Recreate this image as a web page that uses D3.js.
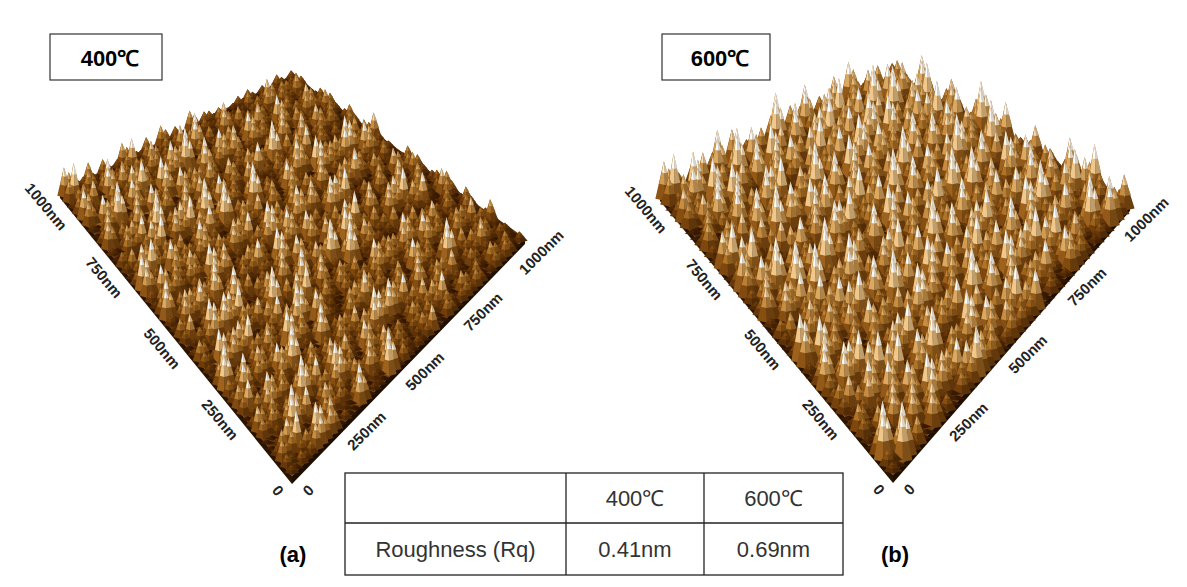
<!DOCTYPE html>
<html><head><meta charset="utf-8">
<script src="https://cdn.jsdelivr.net/npm/d3@7"></script>
<style>body{margin:0;background:#fff}</style></head>
<body><svg id="c" width="1187" height="587"></svg>
<script>
// Surface heights (0-9), one string per row
const heightsA = [
"352463527342563472536243","463725364852736425374625","254637429536274835462736",
"375264538472639427536452","463827356482537264839425","536472839265374628453736",
"247536482739456327584634","364829573648293756427385","572436548273659428364752",
"436758243685374926538467","653842756374829364758243","385627493658247365839254",
"472863527496384752638475","639274856372948563274869","348567293846572938465273",
"576384962738456293847562","463927584635279486357948","857362948573625849364752",
"369485726394857362948573","574839265748396275849367","486273958647382957463829",
"635948572638495726385947","472856394857263948576394","958372649583726495837264"];
const heightsB = [
"463825736948257364839527","257396482759364827593648","648273958463729584637295",
"375948627395846273958462","829463758294637582946375","462739584627395846273958",
"738594627385946273859462","596273849562738495627384","374859627384956273849562",
"859627384956273849562738","627384956273849562738495","483956273849562738495627",
"956273849562738495627384","274839562748395627483956","639527483956274839562748",
"485726394857263948572639","728394857263948572639485","396485726394857263948572",
"857263948572639485726394","463948572639485726394857","739485726394857263948572",
"294857263948572639485726","685726394857263948572639","947263948572639485726394"];
const axisTicks = ["0","250nm","500nm","750nm","1000nm"];
const panelTitles = ["400\u2103","600\u2103"];
const panelTags = ["(a)","(b)"];
const tableHeader = ["","400\u2103","600\u2103"];
const tableRow = ["Roughness (Rq)","0.41nm","0.69nm"];

const svg = d3.select("#c");
const color = d3.scaleLinear().domain([0,3,5,7,8.5]).range(["#3a1a00","#7a460e","#a87028","#dcb070","#fbf8f2"]).clamp(true);

function panel(h, corners, scaleH, w){
  const [T,L,R,B] = corners;
  const P=(u,v)=>[ (1-u)*(1-v)*T[0]+u*(1-v)*L[0]+(1-u)*v*R[0]+u*v*B[0],
                   (1-u)*(1-v)*T[1]+u*(1-v)*L[1]+(1-u)*v*R[1]+u*v*B[1] ];
  const g=svg.append("g");
  g.append("polygon").attr("points",[T,L,B,R].map(p=>p.join(",")).join(" ")).attr("fill","#6a3a0c");
  g.append("polygon").attr("points",[L,B,[B[0],B[1]+8],[L[0],L[1]+6]].map(p=>p.join(",")).join(" ")).attr("fill","#2a1400");
  g.append("polygon").attr("points",[B,R,[R[0],R[1]+6],[B[0],B[1]+8]].map(p=>p.join(",")).join(" ")).attr("fill","#1e0e00");
  const n=h.length, items=[];
  const hs = d3.scalePow().exponent(1.5).domain([0,9]).range([1,scaleH]);
  const sub=[0.25,0.75];
  for(let r=0;r<n;r++)for(let c=0;c<n;c++){
    const v=+h[r][c];
    sub.forEach((a,ia)=>sub.forEach((b,ib)=>{
      const vv = Math.max(0, v - 1.5*((ia*2+ib+r+c)%3));
      items.push({u:(r+a)/n,v:(c+b)/n,h:vv});
    }));
  }
  items.sort((a,b)=>(a.u+a.v)-(b.u+b.v));
  items.forEach(it=>{
    const [x,y]=P(it.u,it.v); const H=hs(it.h);
    [[1,0.45],[0.6,0.8],[0.3,1.08]].forEach(([f,cf])=>{
      const top=y-H, by=y-H*(1-f), ww=w*f;
      const col=d3.color(color(it.h*cf));
      g.append("polygon").attr("points",`${x-ww},${by+2*f} ${x-1},${top} ${x},${by+4*f}`).attr("fill",col.brighter(0.2));
      g.append("polygon").attr("points",`${x-1},${top} ${x+ww},${by+2*f} ${x},${by+4*f}`).attr("fill",col.darker(0.45));
    });
  });
  const lab=(p,rot,t)=>g.append("text").attr("transform",`translate(${p[0]},${p[1]}) rotate(${rot})`)
     .attr("text-anchor","middle").attr("font-family","Arial, Liberation Sans").attr("font-weight","bold")
     .attr("font-size",15).attr("fill","#222").text(t);
  axisTicks.forEach((t,i)=>{
    const f=i/4;
    lab([B[0]+(L[0]-B[0])*f-18, B[1]+(L[1]-B[1])*f+18],50,t);
    lab([B[0]+(R[0]-B[0])*f+20, B[1]+(R[1]-B[1])*f+18],-45,t);
  });
}
panel(heightsA,[[292,75],[60,192],[525,238],[292,476]],34,7.5);
panel(heightsB,[[893,75],[660,195],[1130,205],[893,475]],46,9.5);

[[50,34,112,panelTitles[0]],[662,34,108,panelTitles[1]]].forEach(([x,y,w,t])=>{
  svg.append("rect").attr("x",x).attr("y",y).attr("width",w).attr("height",46).attr("fill","#fff").attr("stroke","#333").attr("stroke-width",1.2);
  svg.append("text").attr("x",x+w/2+4).attr("y",y+32).attr("text-anchor","middle").attr("font-family","Arial, Liberation Sans")
    .attr("font-weight","bold").attr("font-size",22).text(t);
});
[[293,panelTags[0]],[895,panelTags[1]]].forEach(([x,t])=>
  svg.append("text").attr("x",x).attr("y",562).attr("text-anchor","middle").attr("font-family","Arial, Liberation Sans").attr("font-weight","bold").attr("font-size",22).text(t));

const tx=[345,566,704,843], ty=[473,523,575];
const tg=svg.append("g");
tg.append("rect").attr("x",tx[0]).attr("y",ty[0]).attr("width",tx[3]-tx[0]).attr("height",ty[2]-ty[0]).attr("fill","#fff").attr("stroke","#222").attr("stroke-width",1.3);
tg.append("line").attr("x1",tx[0]).attr("x2",tx[3]).attr("y1",ty[1]).attr("y2",ty[1]).attr("stroke","#222").attr("stroke-width",1.3);
[1,2].forEach(i=>tg.append("line").attr("x1",tx[i]).attr("x2",tx[i]).attr("y1",ty[0]).attr("y2",ty[2]).attr("stroke","#222").attr("stroke-width",1.3));
[tableHeader,tableRow].forEach((row,ri)=>row.forEach((t,ci)=>{
  tg.append("text").attr("x",(tx[ci]+tx[ci+1])/2).attr("y",(ty[ri]+ty[ri+1])/2+8).attr("text-anchor","middle")
   .attr("font-family","Arial, Liberation Sans").attr("font-size",22).attr("fill","#333").text(t);
}));
</script></body></html>
